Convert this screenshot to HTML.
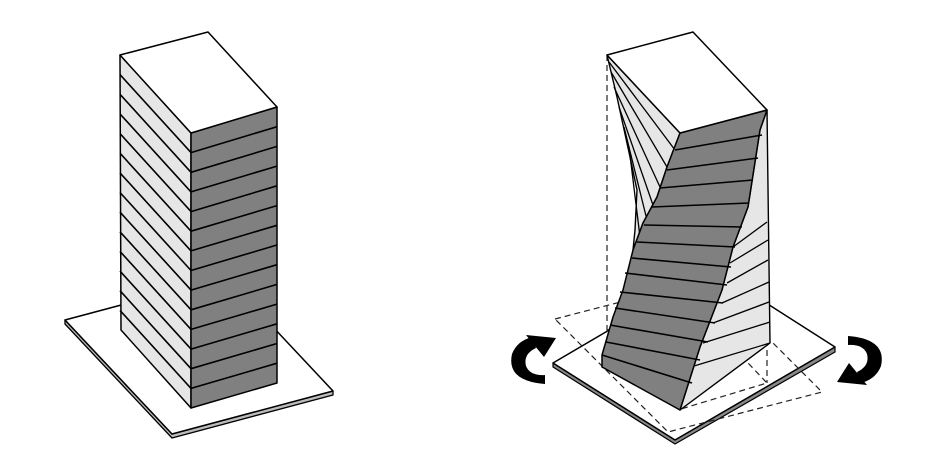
<!DOCTYPE html>
<html><head><meta charset="utf-8"><style>html,body{margin:0;padding:0;background:#fff}svg{display:block}</style></head>
<body>
<svg width="949" height="457" viewBox="0 0 949 457" xmlns="http://www.w3.org/2000/svg" stroke-linejoin="round">
<!-- LEFT -->
<polygon points="65,324 172,438 333,395 333,391 172,434 65,320" fill="#bbb" stroke="#000" stroke-width="1.3"/>
<polygon points="65,320 226,277 333,391 172,434" fill="#fff" stroke="#000" stroke-width="1.5"/>
<polygon points="120,55 191,133 191,408 121,330" fill="#e6e6e6" stroke="#000" stroke-width="1.5"/>
<polygon points="191,133 277,107 277,383 191,408" fill="#808080" stroke="#000" stroke-width="1.5"/>
<polygon points="120,55 208,32 277,107 191,133" fill="#fff" stroke="#000" stroke-width="1.5"/>
<g stroke="#000" stroke-width="1.6">
<line x1="191" y1="152.6" x2="277" y2="126.7"/><line x1="191" y1="172.3" x2="277" y2="146.4"/>
<line x1="191" y1="191.9" x2="277" y2="166.1"/><line x1="191" y1="211.6" x2="277" y2="185.8"/>
<line x1="191" y1="231.2" x2="277" y2="205.6"/><line x1="191" y1="250.9" x2="277" y2="225.3"/>
<line x1="191" y1="270.5" x2="277" y2="245"/><line x1="191" y1="290.1" x2="277" y2="264.7"/>
<line x1="191" y1="309.8" x2="277" y2="284.4"/><line x1="191" y1="329.4" x2="277" y2="304.1"/>
<line x1="191" y1="349.1" x2="277" y2="323.8"/><line x1="191" y1="368.7" x2="277" y2="343.5"/>
<line x1="191" y1="388.4" x2="277" y2="363.2"/>
<line x1="120" y1="74.6" x2="191" y2="152.6"/><line x1="120" y1="94.3" x2="191" y2="172.3"/>
<line x1="120" y1="113.9" x2="191" y2="191.9"/><line x1="120" y1="133.6" x2="191" y2="211.6"/>
<line x1="120" y1="153.2" x2="191" y2="231.2"/><line x1="120" y1="172.9" x2="191" y2="250.9"/>
<line x1="120" y1="192.5" x2="191" y2="270.5"/><line x1="120" y1="212.1" x2="191" y2="290.1"/>
<line x1="120" y1="231.8" x2="191" y2="309.8"/><line x1="120" y1="251.4" x2="191" y2="329.4"/>
<line x1="120" y1="271.1" x2="191" y2="349.1"/><line x1="120" y1="290.7" x2="191" y2="368.7"/>
<line x1="120" y1="310.4" x2="191" y2="388.4"/>
</g>
<!-- RIGHT -->
<polygon points="553,367 675,444 835,352 835,347 675,440 553,363" fill="#888" stroke="#000" stroke-width="1.2"/>
<polygon points="553,363 713,269 835,347 675,440" fill="#fff" stroke="#000" stroke-width="1.5"/>
<g fill="none" stroke="#222" stroke-width="1.2" stroke-dasharray="6,4">
<polygon points="555,319 709,279 822,392 668,432"/>
<polygon points="607,330 693,305 767,383 681,409"/>
<line x1="607" y1="55" x2="607" y2="330"/>
<line x1="767" y1="110" x2="767" y2="383"/>
</g>
<!-- left light face -->
<polygon points="607,55 680,133 667,167 657,197 643,223 633,250 635,230 637,190 630,157 617,97" fill="#e6e6e6" stroke="#000" stroke-width="1.4"/>
<g stroke="#000" stroke-width="1.3">
<line x1="609" y1="62" x2="675" y2="150"/><line x1="611" y1="72" x2="667" y2="167"/>
<line x1="614" y1="87" x2="660" y2="187"/><line x1="619" y1="107" x2="653" y2="205"/>
<line x1="624" y1="127" x2="647" y2="220"/><line x1="629" y1="147" x2="640" y2="237"/>
</g>
<!-- right light face -->
<polygon points="767,110 770,343 680,410 700,347 722,290 733,247 748,207 760,130" fill="#e6e6e6" stroke="#000" stroke-width="1.4"/>
<g stroke="#000" stroke-width="1.3">
<line x1="733" y1="247" x2="767" y2="222"/><line x1="730" y1="263" x2="768" y2="240"/>
<line x1="727" y1="283" x2="768" y2="260"/><line x1="722" y1="303" x2="769" y2="282"/>
<line x1="713" y1="323" x2="769" y2="302"/><line x1="703" y1="343" x2="770" y2="322"/>
<line x1="694" y1="366" x2="770" y2="343"/>
</g>
<!-- dark face -->
<polygon points="680,133 767,110 760,130 748,207 733,247 722,290 700,347 680,410 602,367 602,355 613,317 623,290 633,250 643,223 657,197 667,167" fill="#808080" stroke="#000" stroke-width="1.5"/>
<g stroke="#000" stroke-width="1.6">
<line x1="675" y1="150" x2="762" y2="135"/><line x1="667" y1="170" x2="758" y2="158"/>
<line x1="660" y1="188" x2="753" y2="180"/><line x1="652" y1="207" x2="749" y2="203"/>
<line x1="644" y1="225" x2="742" y2="227"/><line x1="637" y1="242" x2="735" y2="247"/>
<line x1="632" y1="258" x2="731" y2="267"/><line x1="625" y1="273" x2="727" y2="285"/>
<line x1="620" y1="292" x2="723" y2="303"/><line x1="615" y1="308" x2="715" y2="323"/>
<line x1="610" y1="325" x2="708" y2="342"/><line x1="606" y1="342" x2="700" y2="360"/>
<line x1="602" y1="355" x2="692" y2="383"/>
</g>
<polygon points="607,55 693,32 767,110 680,133" fill="#fff" stroke="#000" stroke-width="1.5"/>
<!-- arrows -->
<g id="arr" fill="#000">
<path d="M545,384 Q506,381 512,354 Q517,341 532,337 L536,348 Q523,354 526,366 Q530,376 545,375 Z"/>
<polygon points="526,335 556,338 544,357"/>
</g>
<g transform="translate(1393,720) scale(-1,-1)" fill="#000">
<path d="M545,384 Q506,381 512,354 Q517,341 532,337 L536,348 Q523,354 526,366 Q530,376 545,375 Z"/>
<polygon points="526,335 556,338 544,357"/>
</g>
</svg>
</body></html>
